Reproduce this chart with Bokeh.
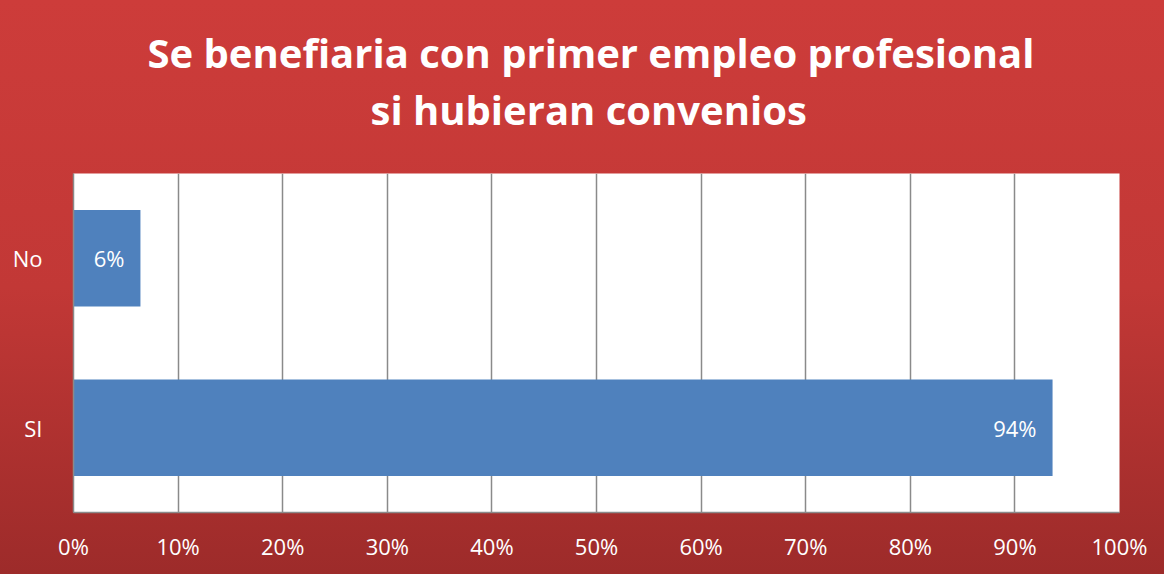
from bokeh.plotting import figure
from bokeh.models import FactorRange, Range1d, PrintfTickFormatter, ColumnDataSource, FixedTicker, Title
from bokeh.core.properties import value
from bokeh.embed import file_html
from bokeh.resources import INLINE

categories = ["SI", "No"]
values = [93.6, 6.4]
labels = ["94%", "6%"]
ticks = [0, 10, 20, 30, 40, 50, 60, 70, 80, 90, 100]
title_lines = ["Se benefiaria con primer empleo profesional", "si hubieran convenios"]

FONT = "Open Sans"

src = ColumnDataSource(dict(cat=categories, val=values, lab=labels))

p = figure(width=1164, height=574, output_backend="svg", toolbar_location=None,
           y_range=FactorRange(factors=categories, range_padding=0),
           x_range=Range1d(0, 100),
           min_border_left=73, min_border_right=45, min_border_top=173, min_border_bottom=62)

p.styles = {"background": "linear-gradient(180deg, #cd3c3a 0%, #c23836 50%, #9d2b2a 100%)"}
p.border_fill_alpha = 0
p.background_fill_color = "white"
p.outline_line_color = None

def style_title(t, off):
    t.text_color = "white"
    t.text_font = FONT
    t.text_font_style = "bold"
    t.text_font_size = "40px"
    t.align = "left"
    t.offset = off

# p.title is always the outermost panel; other "above" items stack outward from the frame
p.title.text = title_lines[0]
style_title(p.title, 74)
p.title.standoff = 0
spacer = Title(text=" ", text_font_size="10px", standoff=24)
p.add_layout(spacer, "above")
t2 = Title(text=title_lines[1])
style_title(t2, 297)
t2.standoff = 0
p.add_layout(t2, "above")

p.hbar(y="cat", right="val", left=0, height=0.57, source=src, color="#4f81bd", line_color=None)
p.text(x="val", y="cat", text="lab", source=src, text_color="white", text_font=value(FONT),
       text_font_size="22px", text_align="right", text_baseline="middle", x_offset=-16)

p.xaxis.ticker = FixedTicker(ticks=ticks)
p.xaxis.formatter = PrintfTickFormatter(format="%d%%")
p.xgrid.ticker = FixedTicker(ticks=ticks)
p.xgrid.grid_line_color = "#8a8a8a"
p.xgrid.grid_line_width = 1.5
p.ygrid.grid_line_color = None

for ax in (p.xaxis, p.yaxis):
    ax.axis_line_color = "#8a8a8a"
    ax.axis_line_width = 1.5
    ax.major_tick_line_color = None
    ax.minor_tick_line_color = None
    ax.major_label_text_color = "white"
    ax.major_label_text_font = FONT
    ax.major_label_text_font_size = "22px"
p.xaxis.major_label_standoff = 12
p.yaxis.major_label_standoff = 25

open("out.html", "w").write(file_html(p, INLINE))
